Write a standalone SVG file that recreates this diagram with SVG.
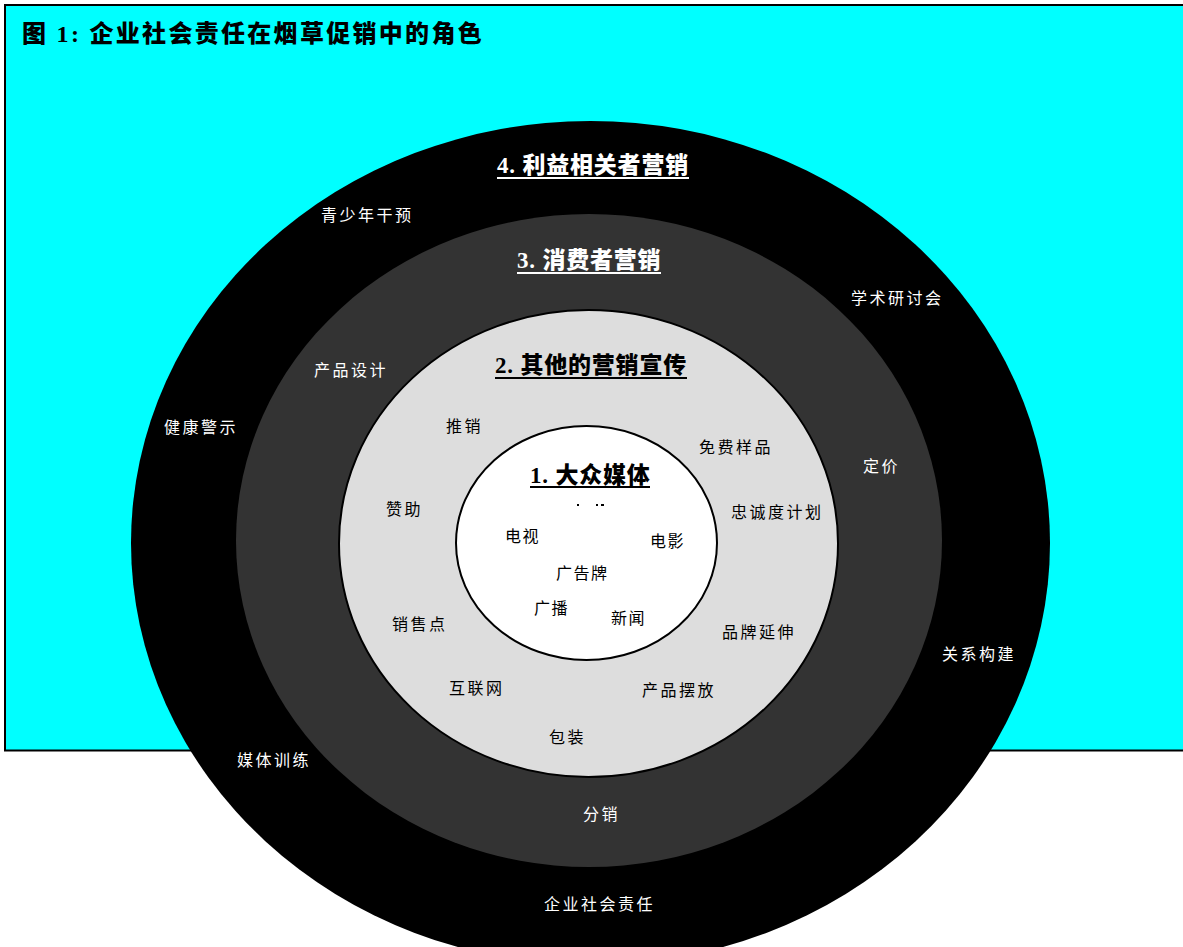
<svg xmlns="http://www.w3.org/2000/svg" width="1183" height="947" viewBox="0 0 1183 947">
<style>
.h{font-family:"Liberation Serif","Noto Sans CJK SC",serif;font-weight:900;font-size:23px;letter-spacing:0.8px}
.t{font-family:"Noto Sans CJK SC","Noto Sans",sans-serif;font-size:16px;letter-spacing:2.5px}
.ti{font-family:"Noto Sans CJK SC","Noto Sans",sans-serif;font-size:16px;letter-spacing:1.5px}
.w{fill:#ffffff}
.b{fill:#000000}
.ul{stroke-width:2}
</style>
<rect id="background" x="5" y="5" width="1182" height="745.5" fill="#00ffff" stroke="#000" stroke-width="2"/>
<text id="title" x="22" y="42" class="h b" style="font-size:24px;letter-spacing:2.3px">图 1: 企业社会责任在烟草促销中的角色</text>
<g id="ring4">
<ellipse cx="590.5" cy="543" rx="459.5" ry="422" fill="#000"/>
<text x="497" y="173" class="h w">4. 利益相关者营销</text>
<line x1="497" y1="178" x2="689" y2="178" stroke="#fff" class="ul"/>
<text x="321" y="221" class="t w">青少年干预</text>
<text x="851" y="304" class="t w">学术研讨会</text>
<text x="164" y="433" class="t w">健康警示</text>
<text x="942" y="660" class="t w">关系构建</text>
<text x="237" y="766" class="t w">媒体训练</text>
<text x="544" y="910" class="t w">企业社会责任</text>
</g>
<g id="ring3">
<ellipse cx="589" cy="540.5" rx="353" ry="326.5" fill="#333333"/>
<text x="517" y="268" class="h w">3. 消费者营销</text>
<line x1="517" y1="273" x2="661" y2="273" stroke="#fff" class="ul"/>
<text x="314" y="376" class="t w">产品设计</text>
<text x="863" y="472" class="t w">定价</text>
<text x="583" y="820" class="t w">分销</text>
</g>
<g id="ring2">
<ellipse cx="588.5" cy="543.5" rx="249.5" ry="233.5" fill="#dddddd" stroke="#000" stroke-width="2"/>
<text x="495" y="373" class="h b">2. 其他的营销宣传</text>
<line x1="495" y1="378" x2="687" y2="378" stroke="#000" class="ul"/>
<text x="446" y="432" class="t b">推销</text>
<text x="699" y="453" class="t b">免费样品</text>
<text x="386" y="515" class="t b">赞助</text>
<text x="731" y="518" class="t b">忠诚度计划</text>
<text x="392" y="630" class="t b">销售点</text>
<text x="722" y="638" class="t b">品牌延伸</text>
<text x="449" y="694" class="t b">互联网</text>
<text x="642" y="696" class="t b">产品摆放</text>
<text x="549" y="743" class="t b">包装</text>
</g>
<g id="ring1">
<ellipse cx="586.5" cy="543" rx="130.5" ry="117" fill="#ffffff" stroke="#000" stroke-width="2"/>
<text x="530" y="483" class="h b">1. 大众媒体</text>
<line x1="530" y1="487" x2="650" y2="487" stroke="#000" class="ul"/>
<rect x="577" y="504" width="2" height="2" fill="#000"/>
<rect x="596" y="504" width="2" height="2" fill="#000"/>
<rect x="601" y="504" width="3" height="2" fill="#000"/>
<text x="505" y="542" class="ti b">电视</text>
<text x="650" y="547" class="ti b">电影</text>
<text x="556" y="579" class="ti b">广告牌</text>
<text x="534" y="614" class="ti b">广播</text>
<text x="611" y="624" class="ti b">新闻</text>
</g>
<g id="connectors"></g>
</svg>
